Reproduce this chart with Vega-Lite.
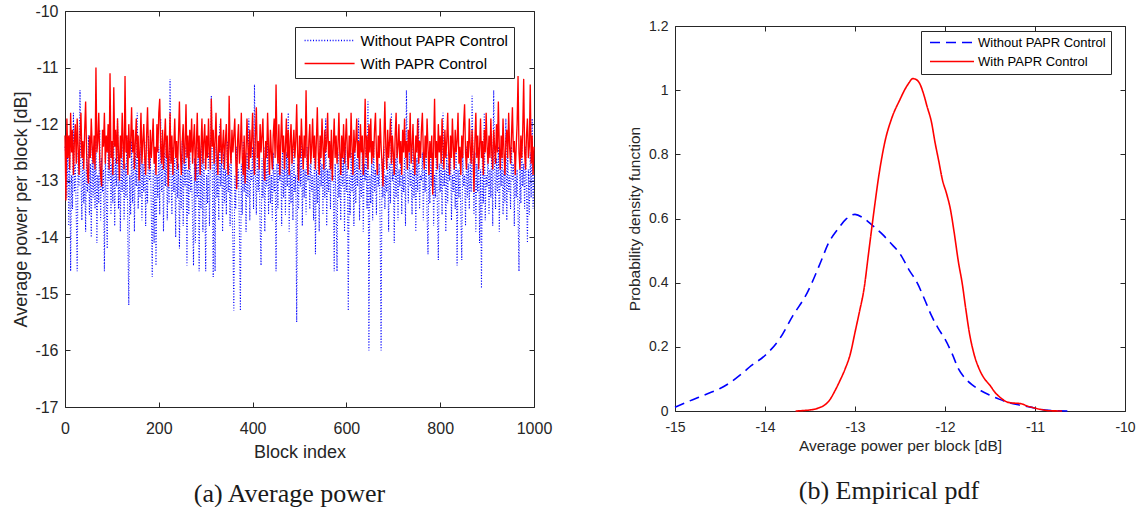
{
"$schema": "https://vega.github.io/schema/vega-lite/v6.json",
"background": "white",
"padding": {"left": 12, "top": 3, "right": 0, "bottom": 0},
"datasets": {
"ts": [
{"i":0,"w":-12.4,"r":-12.2},
{"i":2,"w":-12.6,"r":-13.35},{"i":4,"w":-13.3,"r":-11.9},{"i":6,"w":-12.4,"r":-12.6},{"i":8,"w":-13.8,"r":-12.2},{"i":10,"w":-12.2,"r":-12.8},{"i":12,"w":-14.6,"r":-11.8},{"i":14,"w":-12.9,"r":-12.5},{"i":16,"w":-13.5,"r":-12.1},{"i":18,"w":-11.8,"r":-12.9},{"i":20,"w":-13.2,"r":-12.3},
{"i":22,"w":-12.7,"r":-12.0},{"i":24,"w":-13.6,"r":-12.7},{"i":26,"w":-14.6,"r":-11.9},{"i":28,"w":-12.5,"r":-12.4},{"i":30,"w":-13.1,"r":-12.9},{"i":32,"w":-11.4,"r":-12.2},{"i":34,"w":-12.9,"r":-11.8},{"i":36,"w":-13.7,"r":-12.6},{"i":38,"w":-12.3,"r":-12.3},{"i":40,"w":-13.4,"r":-12.8},
{"i":42,"w":-12.8,"r":-12.1},{"i":44,"w":-13.9,"r":-11.6},{"i":46,"w":-12.5,"r":-12.5},{"i":48,"w":-13.2,"r":-12.9},{"i":50,"w":-12.2,"r":-13.05},{"i":52,"w":-13.6,"r":-12.2},{"i":54,"w":-12.7,"r":-12.6},{"i":56,"w":-14.0,"r":-11.9},{"i":58,"w":-12.4,"r":-12.4},{"i":60,"w":-13.3,"r":-12.7},
{"i":62,"w":-12.6,"r":-12.2},{"i":64,"w":-13.5,"r":-12.8},{"i":66,"w":-12.3,"r":-11.0},{"i":68,"w":-14.1,"r":-12.5},{"i":70,"w":-12.9,"r":-12.3},{"i":72,"w":-13.4,"r":-11.8},{"i":74,"w":-12.1,"r":-12.6},{"i":76,"w":-13.7,"r":-12.9},{"i":78,"w":-12.6,"r":-13.1},{"i":80,"w":-13.2,"r":-12.1},
{"i":82,"w":-12.8,"r":-12.4},{"i":84,"w":-14.6,"r":-11.8},{"i":86,"w":-12.5,"r":-12.7},{"i":88,"w":-13.3,"r":-12.2},{"i":90,"w":-14.2,"r":-12.5},{"i":92,"w":-12.4,"r":-12.0},{"i":94,"w":-13.0,"r":-12.8},{"i":96,"w":-12.2,"r":-11.1},{"i":98,"w":-13.6,"r":-12.6},{"i":100,"w":-12.7,"r":-12.3},
{"i":102,"w":-13.4,"r":-12.9},{"i":104,"w":-12.3,"r":-11.35},{"i":106,"w":-13.8,"r":-12.4},{"i":108,"w":-12.6,"r":-12.1},{"i":110,"w":-13.1,"r":-12.7},{"i":112,"w":-11.9,"r":-11.9},{"i":114,"w":-13.5,"r":-12.5},{"i":116,"w":-12.8,"r":-13.0},{"i":118,"w":-13.9,"r":-12.2},{"i":120,"w":-12.5,"r":-12.6},
{"i":122,"w":-13.2,"r":-11.8},{"i":124,"w":-12.4,"r":-12.4},{"i":126,"w":-13.7,"r":-12.8},{"i":128,"w":-12.7,"r":-11.15},{"i":130,"w":-13.3,"r":-12.5},{"i":132,"w":-12.2,"r":-12.2},{"i":134,"w":-14.0,"r":-12.9},{"i":136,"w":-15.2,"r":-12.0},{"i":138,"w":-12.9,"r":-12.6},{"i":140,"w":-13.6,"r":-12.3},
{"i":142,"w":-12.3,"r":-11.7},{"i":144,"w":-13.4,"r":-12.5},{"i":146,"w":-12.6,"r":-12.1},{"i":148,"w":-13.9,"r":-12.8},{"i":150,"w":-12.5,"r":-12.3},{"i":152,"w":-13.1,"r":-11.9},{"i":154,"w":-11.8,"r":-12.6},{"i":156,"w":-13.5,"r":-12.2},{"i":158,"w":-12.8,"r":-13.0},{"i":160,"w":-13.3,"r":-12.4},
{"i":162,"w":-12.4,"r":-11.8},{"i":164,"w":-13.7,"r":-12.7},{"i":166,"w":-12.7,"r":-12.3},{"i":168,"w":-13.2,"r":-12.0},{"i":170,"w":-12.3,"r":-12.6},{"i":172,"w":-13.8,"r":-12.9},{"i":174,"w":-12.9,"r":-12.2},{"i":176,"w":-13.4,"r":-11.7},{"i":178,"w":-12.2,"r":-12.5},{"i":180,"w":-13.0,"r":-12.8},
{"i":182,"w":-12.6,"r":-12.1},{"i":184,"w":-13.5,"r":-12.6},{"i":186,"w":-14.7,"r":-12.3},{"i":188,"w":-12.8,"r":-11.9},{"i":190,"w":-14.1,"r":-12.7},{"i":192,"w":-12.5,"r":-12.4},{"i":194,"w":-14.5,"r":-12.9},{"i":196,"w":-12.9,"r":-12.0},{"i":198,"w":-13.3,"r":-12.5},{"i":200,"w":-12.4,"r":-11.8},
{"i":202,"w":-13.6,"r":-11.55},{"i":204,"w":-11.9,"r":-12.4},{"i":206,"w":-13.2,"r":-12.7},{"i":208,"w":-12.7,"r":-12.1},{"i":210,"w":-13.9,"r":-12.8},{"i":212,"w":-12.5,"r":-12.3},{"i":214,"w":-13.1,"r":-11.9},{"i":216,"w":-12.3,"r":-12.6},{"i":218,"w":-13.7,"r":-12.2},{"i":220,"w":-12.8,"r":-13.1},
{"i":222,"w":-13.4,"r":-12.5},{"i":224,"w":-11.2,"r":-11.8},{"i":226,"w":-12.9,"r":-12.7},{"i":228,"w":-13.6,"r":-12.2},{"i":230,"w":-12.4,"r":-12.9},{"i":232,"w":-13.2,"r":-12.4},{"i":234,"w":-12.6,"r":-11.9},{"i":236,"w":-14.0,"r":-12.6},{"i":238,"w":-12.5,"r":-12.3},{"i":240,"w":-13.3,"r":-12.8},
{"i":242,"w":-12.7,"r":-12.2},{"i":244,"w":-14.2,"r":-11.6},{"i":246,"w":-12.9,"r":-12.5},{"i":248,"w":-13.5,"r":-12.9},{"i":250,"w":-12.3,"r":-12.3},{"i":252,"w":-13.8,"r":-12.0},{"i":254,"w":-12.6,"r":-12.7},{"i":256,"w":-13.1,"r":-12.4},{"i":258,"w":-12.4,"r":-11.65},{"i":260,"w":-14.5,"r":-12.6},
{"i":262,"w":-12.8,"r":-12.2},{"i":264,"w":-13.6,"r":-12.8},{"i":266,"w":-12.5,"r":-12.1},{"i":268,"w":-13.2,"r":-12.5},{"i":270,"w":-12.9,"r":-11.9},{"i":272,"w":-13.7,"r":-12.7},{"i":274,"w":-14.5,"r":-12.3},{"i":276,"w":-12.6,"r":-12.0},{"i":278,"w":-14.1,"r":-13.0},{"i":280,"w":-12.7,"r":-12.4},
{"i":282,"w":-13.3,"r":-11.8},{"i":284,"w":-12.4,"r":-12.6},{"i":286,"w":-14.6,"r":-12.2},{"i":288,"w":-12.8,"r":-12.9},{"i":290,"w":-13.5,"r":-12.4},{"i":292,"w":-12.3,"r":-11.9},{"i":294,"w":-13.9,"r":-12.7},{"i":296,"w":-12.6,"r":-12.3},{"i":298,"w":-13.2,"r":-12.0},{"i":300,"w":-14.6,"r":-12.8},
{"i":302,"w":-12.9,"r":-12.2},{"i":304,"w":-13.4,"r":-12.6},{"i":306,"w":-12.5,"r":-11.9},{"i":308,"w":-13.8,"r":-12.5},{"i":310,"w":-12.7,"r":-12.8},{"i":312,"w":-11.5,"r":-11.55},{"i":314,"w":-12.8,"r":-12.4},{"i":316,"w":-14.7,"r":-12.1},{"i":318,"w":-12.6,"r":-12.7},{"i":320,"w":-14.6,"r":-12.3},
{"i":322,"w":-12.4,"r":-11.8},{"i":324,"w":-13.3,"r":-12.6},{"i":326,"w":-12.9,"r":-12.9},{"i":328,"w":-13.7,"r":-12.2},{"i":330,"w":-12.0,"r":-12.5},{"i":332,"w":-13.1,"r":-11.9},{"i":334,"w":-12.6,"r":-12.7},{"i":336,"w":-13.9,"r":-12.4},{"i":338,"w":-12.5,"r":-12.1},{"i":340,"w":-13.4,"r":-12.8},
{"i":342,"w":-12.8,"r":-12.3},{"i":344,"w":-13.6,"r":-12.0},{"i":346,"w":-12.3,"r":-12.6},{"i":348,"w":-13.2,"r":-12.9},{"i":350,"w":-12.7,"r":-11.5},{"i":352,"w":-13.8,"r":-12.4},{"i":354,"w":-12.5,"r":-12.7},{"i":356,"w":-13.4,"r":-12.1},{"i":358,"w":-14.1,"r":-12.5},{"i":360,"w":-15.3,"r":-12.2},
{"i":362,"w":-12.9,"r":-11.9},{"i":364,"w":-13.5,"r":-12.6},{"i":366,"w":-12.4,"r":-13.15},{"i":368,"w":-13.1,"r":-12.3},{"i":370,"w":-12.8,"r":-12.0},{"i":372,"w":-14.0,"r":-12.7},{"i":374,"w":-15.3,"r":-12.4},{"i":376,"w":-12.7,"r":-11.8},{"i":378,"w":-13.6,"r":-12.6},{"i":380,"w":-12.3,"r":-12.9},
{"i":382,"w":-13.2,"r":-12.2},{"i":384,"w":-12.6,"r":-13.05},{"i":386,"w":-13.9,"r":-12.5},{"i":388,"w":-12.5,"r":-11.9},{"i":390,"w":-13.3,"r":-12.4},{"i":392,"w":-11.9,"r":-12.8},{"i":394,"w":-13.7,"r":-12.1},{"i":396,"w":-12.8,"r":-12.6},{"i":398,"w":-13.0,"r":-12.3},{"i":400,"w":-12.4,"r":-11.8},
{"i":402,"w":-13.5,"r":-12.5},{"i":404,"w":-11.3,"r":-12.9},{"i":406,"w":-12.9,"r":-12.2},{"i":408,"w":-13.6,"r":-11.7},{"i":410,"w":-12.5,"r":-12.6},{"i":412,"w":-13.2,"r":-12.3},{"i":414,"w":-12.7,"r":-12.8},{"i":416,"w":-13.8,"r":-12.0},{"i":418,"w":-14.5,"r":-12.5},{"i":420,"w":-12.6,"r":-12.2},
{"i":422,"w":-13.3,"r":-11.9},{"i":424,"w":-12.4,"r":-12.7},{"i":426,"w":-13.9,"r":-13.0},{"i":428,"w":-12.8,"r":-12.3},{"i":430,"w":-13.1,"r":-12.6},{"i":432,"w":-12.3,"r":-11.8},{"i":434,"w":-13.6,"r":-12.4},{"i":436,"w":-12.6,"r":-12.9},{"i":438,"w":-13.4,"r":-12.1},{"i":440,"w":-12.9,"r":-12.5},
{"i":442,"w":-13.7,"r":-12.8},{"i":444,"w":-12.5,"r":-12.2},{"i":446,"w":-13.2,"r":-11.9},{"i":448,"w":-12.8,"r":-12.6},{"i":450,"w":-14.6,"r":-11.3},{"i":452,"w":-12.7,"r":-12.4},{"i":454,"w":-13.5,"r":-12.7},{"i":456,"w":-12.4,"r":-12.0},{"i":458,"w":-13.0,"r":-12.9},{"i":460,"w":-12.6,"r":-12.3},
{"i":462,"w":-13.8,"r":-11.8},{"i":464,"w":-12.3,"r":-12.5},{"i":466,"w":-13.3,"r":-12.2},{"i":468,"w":-12.7,"r":-12.8},{"i":470,"w":-13.6,"r":-12.4},{"i":472,"w":-12.5,"r":-11.9},{"i":474,"w":-13.1,"r":-12.6},{"i":476,"w":-11.8,"r":-12.1},{"i":478,"w":-13.9,"r":-12.9},{"i":480,"w":-12.8,"r":-12.3},
{"i":482,"w":-13.4,"r":-12.0},{"i":484,"w":-12.6,"r":-12.7},{"i":486,"w":-13.7,"r":-12.4},{"i":488,"w":-12.4,"r":-12.1},{"i":490,"w":-13.2,"r":-12.6},{"i":492,"w":-12.9,"r":-12.3},{"i":494,"w":-15.5,"r":-11.65},{"i":496,"w":-12.7,"r":-12.5},{"i":498,"w":-13.5,"r":-13.0},{"i":500,"w":-12.5,"r":-12.2},
{"i":502,"w":-13.1,"r":-12.6},{"i":504,"w":-12.3,"r":-11.9},{"i":506,"w":-13.8,"r":-12.4},{"i":508,"w":-12.6,"r":-12.8},{"i":510,"w":-13.3,"r":-12.2},{"i":512,"w":-12.8,"r":-12.6},{"i":514,"w":-13.6,"r":-11.4},{"i":516,"w":-12.4,"r":-12.5},{"i":518,"w":-13.0,"r":-12.9},{"i":520,"w":-12.7,"r":-12.3},
{"i":522,"w":-13.5,"r":-12.0},{"i":524,"w":-12.5,"r":-12.7},{"i":526,"w":-13.2,"r":-12.4},{"i":528,"w":-12.9,"r":-11.9},{"i":530,"w":-13.7,"r":-12.6},{"i":532,"w":-12.4,"r":-12.2},{"i":534,"w":-14.3,"r":-12.8},{"i":536,"w":-12.8,"r":-12.3},{"i":538,"w":-13.4,"r":-11.7},{"i":540,"w":-12.6,"r":-12.5},
{"i":542,"w":-13.9,"r":-12.9},{"i":544,"w":-12.3,"r":-12.2},{"i":546,"w":-13.1,"r":-12.6},{"i":548,"w":-12.7,"r":-11.9},{"i":550,"w":-13.6,"r":-12.4},{"i":552,"w":-12.5,"r":-12.8},{"i":554,"w":-13.3,"r":-12.1},{"i":556,"w":-11.9,"r":-12.5},{"i":558,"w":-13.8,"r":-12.3},{"i":560,"w":-12.8,"r":-11.8},
{"i":562,"w":-13.2,"r":-12.6},{"i":564,"w":-12.6,"r":-12.3},{"i":566,"w":-13.5,"r":-12.8},{"i":568,"w":-12.4,"r":-12.1},{"i":570,"w":-13.0,"r":-13.0},{"i":572,"w":-12.9,"r":-12.4},{"i":574,"w":-14.6,"r":-11.9},{"i":576,"w":-12.7,"r":-12.6},{"i":578,"w":-13.4,"r":-12.2},{"i":580,"w":-14.6,"r":-12.7},
{"i":582,"w":-12.5,"r":-12.4},{"i":584,"w":-13.3,"r":-11.8},{"i":586,"w":-12.8,"r":-12.5},{"i":588,"w":-13.7,"r":-12.9},{"i":590,"w":-12.3,"r":-12.2},{"i":592,"w":-13.1,"r":-12.6},{"i":594,"w":-12.6,"r":-12.0},{"i":596,"w":-13.9,"r":-12.7},{"i":598,"w":-12.4,"r":-12.3},{"i":600,"w":-13.2,"r":-11.9},
{"i":602,"w":-12.7,"r":-12.5},{"i":604,"w":-15.3,"r":-12.8},{"i":606,"w":-12.9,"r":-12.2},{"i":608,"w":-13.6,"r":-12.6},{"i":610,"w":-12.5,"r":-11.8},{"i":612,"w":-13.2,"r":-12.4},{"i":614,"w":-12.8,"r":-12.9},{"i":616,"w":-13.8,"r":-12.1},{"i":618,"w":-12.4,"r":-12.5},{"i":620,"w":-13.4,"r":-12.3},
{"i":622,"w":-12.6,"r":-11.9},{"i":624,"w":-13.1,"r":-12.6},{"i":626,"w":-11.9,"r":-12.3},{"i":628,"w":-13.7,"r":-12.8},{"i":630,"w":-12.8,"r":-12.0},{"i":632,"w":-13.3,"r":-12.5},{"i":634,"w":-12.5,"r":-12.2},{"i":636,"w":-13.9,"r":-12.9},{"i":638,"w":-12.7,"r":-12.4},{"i":640,"w":-13.0,"r":-11.55},
{"i":642,"w":-12.4,"r":-12.6},{"i":644,"w":-13.5,"r":-12.2},{"i":646,"w":-11.6,"r":-12.8},{"i":648,"w":-16.0,"r":-12.0},{"i":650,"w":-12.9,"r":-12.5},{"i":652,"w":-13.4,"r":-11.9},{"i":654,"w":-12.6,"r":-12.7},{"i":656,"w":-13.7,"r":-12.3},{"i":658,"w":-12.3,"r":-12.6},{"i":660,"w":-13.2,"r":-12.1},
{"i":662,"w":-12.8,"r":-11.8},{"i":664,"w":-13.6,"r":-12.5},{"i":666,"w":-12.5,"r":-12.9},{"i":668,"w":-13.1,"r":-12.2},{"i":670,"w":-12.7,"r":-12.6},{"i":672,"w":-13.8,"r":-11.9},{"i":674,"w":-16.0,"r":-12.4},{"i":676,"w":-12.6,"r":-12.7},{"i":678,"w":-13.3,"r":-13.1},{"i":680,"w":-12.4,"r":-12.3},
{"i":682,"w":-13.5,"r":-11.6},{"i":684,"w":-12.9,"r":-12.4},{"i":686,"w":-13.2,"r":-12.8},{"i":688,"w":-12.5,"r":-12.1},{"i":690,"w":-13.9,"r":-12.6},{"i":692,"w":-12.7,"r":-12.3},{"i":694,"w":-13.4,"r":-11.9},{"i":696,"w":-11.8,"r":-12.7},{"i":698,"w":-13.0,"r":-12.2},{"i":700,"w":-12.8,"r":-12.5},
{"i":702,"w":-14.1,"r":-12.9},{"i":704,"w":-12.6,"r":-12.2},{"i":706,"w":-13.3,"r":-11.8},{"i":708,"w":-12.4,"r":-12.6},{"i":710,"w":-13.7,"r":-12.4},{"i":712,"w":-12.8,"r":-12.0},{"i":714,"w":-13.1,"r":-12.7},{"i":716,"w":-12.5,"r":-12.3},{"i":718,"w":-13.6,"r":-12.9},{"i":720,"w":-12.9,"r":-12.1},
{"i":722,"w":-13.2,"r":-12.5},{"i":724,"w":-12.6,"r":-11.9},{"i":726,"w":-13.8,"r":-12.6},{"i":728,"w":-11.4,"r":-12.3},{"i":730,"w":-12.7,"r":-12.8},{"i":732,"w":-13.4,"r":-12.1},{"i":734,"w":-12.5,"r":-12.5},{"i":736,"w":-13.1,"r":-11.8},{"i":738,"w":-12.8,"r":-12.7},{"i":740,"w":-13.6,"r":-12.4},
{"i":742,"w":-12.4,"r":-12.0},{"i":744,"w":-13.3,"r":-12.6},{"i":746,"w":-12.7,"r":-12.9},{"i":748,"w":-13.9,"r":-12.2},{"i":750,"w":-12.6,"r":-12.5},{"i":752,"w":-13.2,"r":-11.9},{"i":754,"w":-11.9,"r":-12.7},{"i":756,"w":-13.5,"r":-12.3},{"i":758,"w":-12.9,"r":-12.6},{"i":760,"w":-13.0,"r":-12.1},
{"i":762,"w":-12.5,"r":-11.8},{"i":764,"w":-13.7,"r":-12.5},{"i":766,"w":-12.8,"r":-12.8},{"i":768,"w":-13.2,"r":-12.2},{"i":770,"w":-12.4,"r":-12.6},{"i":772,"w":-13.6,"r":-11.9},{"i":774,"w":-14.3,"r":-12.4},{"i":776,"w":-12.7,"r":-12.9},{"i":778,"w":-13.4,"r":-12.3},{"i":780,"w":-12.6,"r":-12.6},
{"i":782,"w":-13.1,"r":-12.2},{"i":784,"w":-12.5,"r":-13.25},{"i":786,"w":-13.8,"r":-12.4},{"i":788,"w":-12.9,"r":-11.55},{"i":790,"w":-13.3,"r":-12.6},{"i":792,"w":-12.4,"r":-12.3},{"i":794,"w":-13.5,"r":-12.8},{"i":796,"w":-14.4,"r":-12.0},{"i":798,"w":-12.7,"r":-12.5},{"i":800,"w":-13.2,"r":-12.2},
{"i":802,"w":-12.6,"r":-12.7},{"i":804,"w":-13.6,"r":-11.9},{"i":806,"w":-11.8,"r":-12.4},{"i":808,"w":-13.1,"r":-12.8},{"i":810,"w":-12.8,"r":-12.1},{"i":812,"w":-13.9,"r":-12.6},{"i":814,"w":-12.5,"r":-12.3},{"i":816,"w":-13.4,"r":-11.8},{"i":818,"w":-12.7,"r":-12.5},{"i":820,"w":-13.0,"r":-12.9},
{"i":822,"w":-12.4,"r":-12.2},{"i":824,"w":-13.7,"r":-12.6},{"i":826,"w":-12.9,"r":-11.9},{"i":828,"w":-13.2,"r":-12.4},{"i":830,"w":-12.6,"r":-12.8},{"i":832,"w":-13.5,"r":-12.1},{"i":834,"w":-12.3,"r":-12.5},{"i":836,"w":-14.5,"r":-12.3},{"i":838,"w":-12.8,"r":-11.8},{"i":840,"w":-13.3,"r":-12.7},
{"i":842,"w":-12.7,"r":-12.4},{"i":844,"w":-13.6,"r":-12.9},{"i":846,"w":-14.4,"r":-12.2},{"i":848,"w":-12.5,"r":-12.6},{"i":850,"w":-13.1,"r":-12.0},{"i":852,"w":-12.9,"r":-11.65},{"i":854,"w":-13.8,"r":-12.5},{"i":856,"w":-12.4,"r":-12.8},{"i":858,"w":-13.3,"r":-12.3},{"i":860,"w":-12.7,"r":-12.6},
{"i":862,"w":-13.5,"r":-11.9},{"i":864,"w":-12.6,"r":-12.4},{"i":866,"w":-13.2,"r":-12.7},{"i":868,"w":-11.5,"r":-12.1},{"i":870,"w":-12.8,"r":-12.5},{"i":872,"w":-13.6,"r":-13.2},{"i":874,"w":-12.5,"r":-12.3},{"i":876,"w":-13.9,"r":-11.8},{"i":878,"w":-12.7,"r":-12.6},{"i":880,"w":-13.2,"r":-12.2},
{"i":882,"w":-12.4,"r":-12.8},{"i":884,"w":-14.1,"r":-12.4},{"i":886,"w":-12.8,"r":-11.9},{"i":888,"w":-14.9,"r":-12.6},{"i":890,"w":-12.6,"r":-12.3},{"i":892,"w":-13.4,"r":-12.9},{"i":894,"w":-11.8,"r":-12.1},{"i":896,"w":-13.7,"r":-12.5},{"i":898,"w":-12.9,"r":-11.8},{"i":900,"w":-13.1,"r":-12.4},
{"i":902,"w":-12.5,"r":-12.7},{"i":904,"w":-13.6,"r":-12.2},{"i":906,"w":-12.8,"r":-12.6},{"i":908,"w":-13.3,"r":-11.9},{"i":910,"w":-12.4,"r":-12.5},{"i":912,"w":-13.8,"r":-12.8},{"i":914,"w":-11.4,"r":-12.1},{"i":916,"w":-12.7,"r":-12.4},{"i":918,"w":-13.5,"r":-12.7},{"i":920,"w":-12.6,"r":-12.0},
{"i":922,"w":-13.2,"r":-12.5},{"i":924,"w":-12.4,"r":-11.6},{"i":926,"w":-13.9,"r":-12.4},{"i":928,"w":-12.7,"r":-12.8},{"i":930,"w":-13.1,"r":-12.2},{"i":932,"w":-12.5,"r":-12.6},{"i":934,"w":-13.6,"r":-11.9},{"i":936,"w":-12.8,"r":-12.5},{"i":938,"w":-13.4,"r":-12.9},{"i":940,"w":-11.9,"r":-12.3},
{"i":942,"w":-13.7,"r":-12.1},{"i":944,"w":-12.6,"r":-12.6},{"i":946,"w":-13.2,"r":-11.8},{"i":948,"w":-12.9,"r":-12.4},{"i":950,"w":-13.5,"r":-12.7},{"i":952,"w":-12.4,"r":-12.2},{"i":954,"w":-13.0,"r":-11.7},{"i":956,"w":-12.7,"r":-12.5},{"i":958,"w":-13.8,"r":-12.3},{"i":960,"w":-12.5,"r":-12.9},
{"i":962,"w":-13.3,"r":-12.4},{"i":964,"w":-12.8,"r":-12.0},{"i":966,"w":-13.6,"r":-11.15},{"i":968,"w":-14.6,"r":-12.5},{"i":970,"w":-12.6,"r":-12.8},{"i":972,"w":-13.4,"r":-12.2},{"i":974,"w":-12.3,"r":-12.6},{"i":976,"w":-13.1,"r":-12.1},{"i":978,"w":-12.7,"r":-11.2},{"i":980,"w":-13.5,"r":-12.5},
{"i":982,"w":-12.4,"r":-12.8},{"i":984,"w":-13.2,"r":-12.2},{"i":986,"w":-14.1,"r":-11.9},{"i":988,"w":-12.8,"r":-12.6},{"i":990,"w":-13.6,"r":-12.4},{"i":992,"w":-12.5,"r":-11.3},{"i":994,"w":-13.3,"r":-12.7},{"i":996,"w":-11.9,"r":-12.2},{"i":998,"w":-13.5,"r":-12.9},{"i":1000,"w":-12.9,"r":-12.4}
],
"pdfw": [
{"x":-15.0,"p":0.012},{"x":-14.85,"p":0.03},{"x":-14.68,"p":0.049},{"x":-14.5,"p":0.07},{"x":-14.38,"p":0.09},{"x":-14.25,"p":0.118},{"x":-14.15,"p":0.142},{"x":-14.0,"p":0.173},{"x":-13.84,"p":0.224},{"x":-13.69,"p":0.297},{"x":-13.53,"p":0.369},{"x":-13.38,"p":0.465},{"x":-13.3,"p":0.52},{"x":-13.19,"p":0.567},{"x":-13.1,"p":0.598},{"x":-13.0,"p":0.613},{"x":-12.9,"p":0.6},{"x":-12.8,"p":0.577},{"x":-12.7,"p":0.552},{"x":-12.61,"p":0.525},{"x":-12.5,"p":0.49},{"x":-12.4,"p":0.44},{"x":-12.31,"p":0.4},{"x":-12.23,"p":0.35},{"x":-12.15,"p":0.297},{"x":-12.08,"p":0.26},{"x":-12.0,"p":0.224},{"x":-11.92,"p":0.178},{"x":-11.85,"p":0.131},{"x":-11.77,"p":0.1},{"x":-11.69,"p":0.08},{"x":-11.6,"p":0.063},{"x":-11.5,"p":0.049},{"x":-11.4,"p":0.037},{"x":-11.31,"p":0.028},{"x":-11.2,"p":0.02},{"x":-11.05,"p":0.012},{"x":-10.95,"p":0.006},{"x":-10.85,"p":0.002},{"x":-10.75,"p":0.001},{"x":-10.64,"p":0.0}
],
"pdfr": [
{"x":-13.66,"p":0.0},{"x":-13.55,"p":0.002},{"x":-13.46,"p":0.005},{"x":-13.4,"p":0.01},{"x":-13.34,"p":0.018},{"x":-13.28,"p":0.035},{"x":-13.23,"p":0.059},{"x":-13.17,"p":0.093},{"x":-13.11,"p":0.131},{"x":-13.05,"p":0.18},{"x":-13.0,"p":0.245},{"x":-12.95,"p":0.31},{"x":-12.9,"p":0.38},{"x":-12.85,"p":0.49},{"x":-12.8,"p":0.6},{"x":-12.73,"p":0.743},{"x":-12.67,"p":0.836},{"x":-12.59,"p":0.914},{"x":-12.5,"p":0.971},{"x":-12.45,"p":1.0},{"x":-12.4,"p":1.023},{"x":-12.36,"p":1.036},{"x":-12.32,"p":1.033},{"x":-12.28,"p":1.02},{"x":-12.24,"p":0.99},{"x":-12.2,"p":0.95},{"x":-12.15,"p":0.9},{"x":-12.11,"p":0.836},{"x":-12.07,"p":0.78},{"x":-12.03,"p":0.722},{"x":-11.98,"p":0.675},{"x":-11.94,"p":0.629},{"x":-11.9,"p":0.56},{"x":-11.85,"p":0.463},{"x":-11.81,"p":0.4},{"x":-11.77,"p":0.32},{"x":-11.73,"p":0.245},{"x":-11.68,"p":0.18},{"x":-11.62,"p":0.131},{"x":-11.56,"p":0.1},{"x":-11.5,"p":0.08},{"x":-11.45,"p":0.06},{"x":-11.39,"p":0.043},{"x":-11.31,"p":0.028},{"x":-11.25,"p":0.025},{"x":-11.16,"p":0.023},{"x":-11.08,"p":0.015},{"x":-11.0,"p":0.009},{"x":-10.92,"p":0.004},{"x":-10.85,"p":0.001},{"x":-10.7,"p":0.0}
]
},
"spacing": 75,
"hconcat": [
{
"width": 469,
"height": 396,
"data": {"name": "ts"},
"title": {"text": "(a) Average power", "orient": "bottom", "anchor": "middle", "frame": "group", "font": "Liberation Serif", "fontSize": 26, "fontWeight": "normal", "color": "#1a1a1a", "offset": 20, "dx": -10},
"layer": [
{
"mark": {"type": "line", "strokeWidth": 1.1},
"encoding": {
"x": {"field": "i", "type": "quantitative", "scale": {"domain": [0, 1000], "nice": false}, "axis": {"orient": "bottom", "values": [0, 200, 400, 600, 800, 1000], "labelExpr": "'' + datum.value", "title": "Block index", "labelFontSize": 16, "titleFontSize": 18, "labelPadding": 18, "titlePadding": 7}},
"y": {"field": "w", "type": "quantitative", "scale": {"domain": [-17, -10], "nice": false}, "axis": {"orient": "left", "values": [-17, -16, -15, -14, -13, -12, -11, -10], "labelExpr": "'' + datum.value", "title": "Average power per block [dB]", "labelFontSize": 16, "titleFontSize": 18, "labelPadding": 12, "titlePadding": 4}},
"color": {"datum": "Without PAPR Control", "type": "nominal", "scale": {"domain": ["Without PAPR Control", "With PAPR Control"], "range": ["#0000ff", "#ff0000"]}, "legend": {"orient": "none", "legendX": 230, "legendY": 16, "title": null, "padding": 6, "strokeColor": "#262626", "fillColor": "#ffffff", "symbolType": "M-1.3,0H15.37", "symbolSize": 36, "symbolStrokeWidth": 1.5, "labelOffset": 44.6, "rowPadding": 7, "labelFontSize": 15, "labelFont": "Liberation Sans", "labelColor": "#000000", "labelLimit": 400}},
"strokeDash": {"datum": "Without PAPR Control", "type": "nominal", "scale": {"domain": ["Without PAPR Control", "With PAPR Control"], "range": [[1, 1.8], [1, 0]]}}
}
},
{
"mark": {"type": "line", "strokeWidth": 1.35},
"encoding": {
"x": {"field": "i", "type": "quantitative", "axis": {"orient": "top", "values": [0, 200, 400, 600, 800, 1000], "labels": false, "title": null}},
"y": {"field": "r", "type": "quantitative", "axis": {"orient": "right", "values": [-17, -16, -15, -14, -13, -12, -11, -10], "labels": false, "title": null}},
"color": {"datum": "With PAPR Control", "type": "nominal"},
"strokeDash": {"datum": "With PAPR Control", "type": "nominal"}
}
}
],
"resolve": {"axis": {"x": "independent", "y": "independent"}}
},
{
"width": 450,
"height": 400,
"title": {"text": "(b) Empirical pdf", "orient": "bottom", "anchor": "middle", "frame": "group", "font": "Liberation Serif", "fontSize": 26, "fontWeight": "normal", "color": "#1a1a1a", "offset": 24, "dx": -11},
"layer": [
{
"data": {"name": "pdfw"},
"mark": {"type": "line", "strokeWidth": 1.6, "interpolate": "monotone"},
"encoding": {
"x": {"field": "x", "type": "quantitative", "scale": {"domain": [-15, -10], "nice": false}, "axis": {"orient": "bottom", "values": [-15, -14, -13, -12, -11, -10], "labelExpr": "'' + datum.value", "title": "Average power per block [dB]", "labelFontSize": 14, "titleFontSize": 15.5, "labelPadding": 14, "titlePadding": 4}},
"y": {"field": "p", "type": "quantitative", "scale": {"domain": [0, 1.2], "nice": false, "range": [400, 15]}, "axis": {"orient": "left", "values": [0, 0.2, 0.4, 0.6, 0.8, 1, 1.2], "labelExpr": "'' + datum.value", "title": "Probability density function", "labelFontSize": 14, "titleFontSize": 15.5, "labelPadding": 12, "titlePadding": 6, "titleY": 207.5}},
"color": {"datum": "Without PAPR Control", "type": "nominal", "scale": {"domain": ["Without PAPR Control", "With PAPR Control"], "range": ["#0000ff", "#ff0000"]}, "legend": {"orient": "none", "legendX": 246, "legendY": 20, "title": null, "padding": 5, "strokeColor": "#262626", "fillColor": "#ffffff", "symbolType": "M-0.833,0H13.83", "symbolSize": 36, "symbolStrokeWidth": 1.5, "labelOffset": 39, "rowPadding": 5, "labelFontSize": 13, "labelFont": "Liberation Sans", "labelColor": "#000000", "labelLimit": 400}},
"strokeDash": {"datum": "Without PAPR Control", "type": "nominal", "scale": {"domain": ["Without PAPR Control", "With PAPR Control"], "range": [[10, 6], [1, 0]]}}
}
},
{
"data": {"name": "pdfr"},
"mark": {"type": "line", "strokeWidth": 1.6, "interpolate": "monotone"},
"encoding": {
"x": {"field": "x", "type": "quantitative", "axis": {"orient": "top", "values": [-15, -14, -13, -12, -11, -10], "labels": false, "title": null, "offset": -15}},
"y": {"field": "p", "type": "quantitative", "axis": {"orient": "right", "values": [0, 0.2, 0.4, 0.6, 0.8, 1, 1.2], "labels": false, "title": null}},
"color": {"datum": "With PAPR Control", "type": "nominal"},
"strokeDash": {"datum": "With PAPR Control", "type": "nominal"}
}
}
],
"resolve": {"axis": {"x": "independent", "y": "independent"}}
}
],
"resolve": {"scale": {"color": "independent", "strokeDash": "independent"}, "legend": {"color": "independent", "strokeDash": "independent"}},
"config": {
"view": {"stroke": null},
"font": "Liberation Sans",
"axis": {"domainColor": "#262626", "tickColor": "#262626", "labelColor": "#262626", "titleColor": "#262626", "grid": false, "labelFont": "Liberation Sans", "titleFont": "Liberation Sans", "titleFontWeight": "normal", "tickSize": -5, "labelFlush": false, "labelOverlap": false, "domainWidth": 1, "tickWidth": 1}
}
}
